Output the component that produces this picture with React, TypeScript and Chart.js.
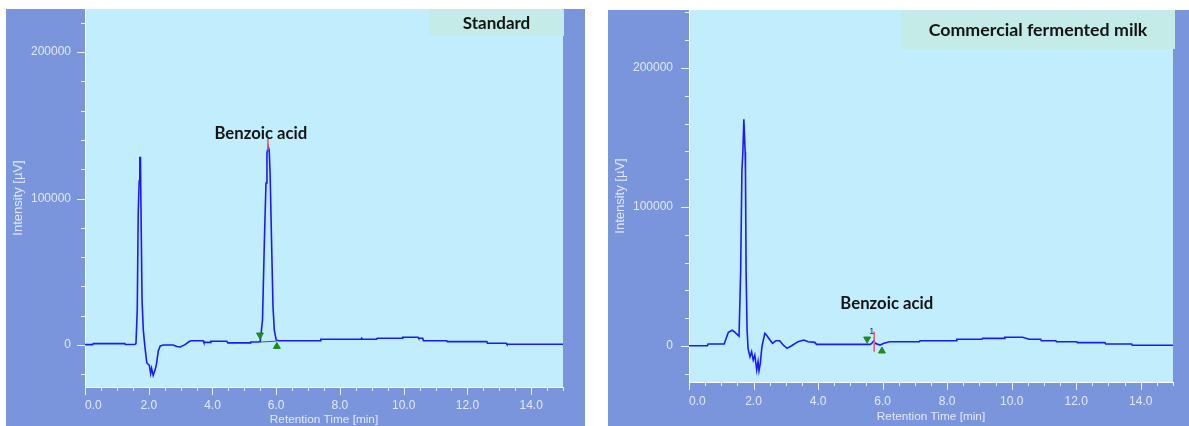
import React, { useEffect, useRef } from 'react';
import { Chart, registerables } from 'chart.js';

Chart.register(...registerables);

// ---------------- data ----------------
// Standard chromatogram (retention time [min], intensity [µV])
const standardTime = [
  0.0, 0.24, 0.26, 1.25, 1.27, 1.56, 1.6, 1.64, 1.67, 1.7, 1.72, 1.74, 1.76, 1.79, 1.83, 1.88, 1.94,
  2.02, 2.06, 2.09, 2.14, 2.2, 2.24, 2.3, 2.36, 2.46, 2.77, 2.88, 2.99, 3.14, 3.28, 3.35, 3.71, 3.73,
  3.93, 3.95, 4.45, 4.48, 5.18, 5.2, 5.44, 5.5, 5.57, 5.63, 5.68, 5.71, 5.75, 5.78, 5.81, 5.86, 5.9,
  5.94, 6.0, 6.08, 7.38, 7.4, 8.66, 8.68, 8.7, 9.15, 9.17, 9.95, 9.97, 10.45, 10.47, 10.6, 10.62,
  11.35, 11.37, 12.61, 12.63, 13.22, 13.24, 15.0,
];
const standardSignal = [
  200, 200, 900, 900, 300, 300, 1000, 24000, 90000, 112000, 128000, 128000, 86000, 30700, 10000, -1100, -12300,
  -14000, -19500, -16000, -20800, -17000, -13400, -4100, -700, 0, 0, -1000, -1400, 200, 2500, 2900, 2900, 1800,
  1800, 2500, 2500, 1400, 1400, 2000, 2000, 2500, 17000, 71700, 110600, 131000, 135400, 133000, 116000, 64800, 26100,
  10200, 3400, 2900, 2900, 3900, 3900, 4600, 3900, 3900, 4600, 4600, 5300, 5300, 4600, 4600, 2900,
  2900, 2250, 2250, 1160, 1160, 480, 480,
];

// Commercial fermented milk chromatogram
const milkTime = [
  0.0, 0.57, 0.59, 1.09, 1.22, 1.34, 1.42, 1.55, 1.6, 1.64, 1.67, 1.7, 1.74, 1.75, 1.77, 1.8, 1.83,
  1.89, 1.94, 1.99, 2.04, 2.1, 2.14, 2.17, 2.21, 2.26, 2.35, 2.4, 2.51, 2.59, 2.69, 2.81, 2.92, 3.04,
  3.18, 3.38, 3.56, 3.69, 3.9, 3.95, 5.62, 5.69, 5.73, 5.77, 5.92, 6.04, 6.22, 7.14, 7.16, 8.28, 8.3,
  9.08, 9.1, 9.77, 9.79, 10.34, 10.54, 10.9, 10.92, 11.37, 11.39, 12.02, 12.04, 12.89, 12.91, 13.72,
  13.74, 15.0,
];
const milkSignal = [
  200, 200, 1400, 1400, 9900, 11300, 9900, 7000, 52500, 126000, 140000, 163100, 139800, 125000, 52500, 11500, -1700,
  -7700, -4100, -10100, -6500, -17300, -11300, -17700, -12500, -500, 9100, 7900, 4300, 1900, 3800, 3800, 700, -1700,
  200, 3100, 4300, 3100, 2600, 1200, 1200, 2500, 3800, 1900, 700, 1900, 3100, 3100, 3800, 3800, 4800,
  4800, 5500, 5500, 6300, 6300, 4800, 4800, 3800, 3800, 3100, 3100, 2400, 2400, 1400, 1400,
  500, 500,
];

// Integration marks [time, intensity]
const standardPeakStart = [5.49, 6800];
const standardPeakEnd = [6.02, -1000];
const standardApex = [5.74, 133000, 141000];
const standardBaseline = [5.49, 2000, 6.02, 2600];
const milkPeakStart = [5.52, 5000];
const milkPeakEnd = [5.98, -3600];
const milkApex = [5.74, 10300, -4100];
const milkPeakNumber = [5.66, 10200];

// Annotation positions [time, intensity]
const standardPeakLabelAt = [5.52, 144000];
const milkPeakLabelAt = [6.13, 30200];

// Tick labels
const xLabeledTicks = [0, 2, 4, 6, 8, 10, 12, 14];
const yLabeledTicks = [0, 100000, 200000];
const yTickStep = 20000;
const xAxisTitle = 'Retention Time [min]';
const yAxisTitle = 'Intensity [µV]';
const peakName = 'Benzoic acid';
const standardTitle = 'Standard';
const milkTitle = 'Commercial fermented milk';

// ---------------- styles ----------------
const FRAME = '#7a95dc';
const PLOT_BG = '#c1edfc';
const BOX_BG = '#c4ebe7';
const LINE = '#1a1aff';
const AXIS_TEXT = '#e2e9fb';
const MARK_GREEN = '#1d8a26';
const SANS = '"Liberation Sans", Arial, sans-serif';
const BOLD = 'Lato, "Open Sans", sans-serif';

interface PanelSpec {
  title: string;
  titleSize: number;
  time: number[];
  signal: number[];
  yMin: number;
  yMax: number;
  left: number;
  top: number;
  width: number;
  height: number;
  yAxisWidth: number;
  xAxisHeight: number;
  padRight: number;
  yLabelPad: number;
  xLabelPad: number;
  xTitlePad: number;
  yTitlePad: number;
  boxWidth: number;
  boxHeight: number;
  boxOverhang: number;
  labelAt: number[];
  peakStart: number[];
  peakEnd: number[];
  apex: number[];
  baseline?: number[];
  peakNumber?: number[];
}

const standardPanel: PanelSpec = {
  title: standardTitle,
  titleSize: 17,
  time: standardTime,
  signal: standardSignal,
  yMin: -28700,
  yMax: 229400,
  left: 6,
  top: 9,
  width: 579,
  height: 417,
  yAxisWidth: 79,
  xAxisHeight: 39,
  padRight: 22,
  yLabelPad: 14,
  xLabelPad: 11,
  xTitlePad: -1,
  yTitlePad: 5,
  boxWidth: 135,
  boxHeight: 27,
  boxOverhang: 1,
  labelAt: standardPeakLabelAt,
  peakStart: standardPeakStart,
  peakEnd: standardPeakEnd,
  apex: standardApex,
  baseline: standardBaseline,
};

const milkPanel: PanelSpec = {
  title: milkTitle,
  titleSize: 17.8,
  time: milkTime,
  signal: milkSignal,
  yMin: -25900,
  yMax: 241700,
  left: 608,
  top: 10,
  width: 581,
  height: 416,
  yAxisWidth: 81,
  xAxisHeight: 44,
  padRight: 16,
  yLabelPad: 16,
  xLabelPad: 12,
  xTitlePad: 2,
  yTitlePad: 5,
  boxWidth: 274,
  boxHeight: 39,
  boxOverhang: 2,
  labelAt: milkPeakLabelAt,
  peakStart: milkPeakStart,
  peakEnd: milkPeakEnd,
  apex: milkApex,
  peakNumber: milkPeakNumber,
};

const near = (list: number[], v: number) => list.some((t) => Math.abs(t - v) < 1e-6);

const decorPlugin = {
  id: 'panelDecor',
  beforeDraw(chart: any) {
    const { ctx, chartArea: a, width, height } = chart;
    ctx.save();
    ctx.fillStyle = FRAME;
    ctx.fillRect(0, 0, width, height);
    ctx.fillStyle = PLOT_BG;
    ctx.fillRect(a.left, a.top, a.right - a.left, a.bottom - a.top);
    ctx.restore();
  },
  afterDraw(chart: any, _args: any, opts: any) {
    const { ctx, chartArea: a } = chart;
    const xs = chart.scales.x;
    const ys = chart.scales.y;
    ctx.save();
    // tick marks
    ctx.strokeStyle = '#eef3ff';
    ctx.lineWidth = 1;
    ctx.beginPath();
    xs.ticks.forEach((t: any) => {
      const px = Math.round(xs.getPixelForValue(t.value)) + 0.5;
      const len = near(xLabeledTicks, t.value) ? 8 : 4;
      ctx.moveTo(px, a.bottom);
      ctx.lineTo(px, a.bottom + len);
    });
    ys.ticks.forEach((t: any) => {
      const py = Math.round(ys.getPixelForValue(t.value)) + 0.5;
      const len = near(yLabeledTicks, t.value) ? 8 : 4;
      ctx.moveTo(a.left, py);
      ctx.lineTo(a.left - len, py);
    });
    ctx.stroke();

    // title box
    const bx = a.right + opts.boxOverhang - opts.boxWidth;
    ctx.fillStyle = BOX_BG;
    ctx.fillRect(bx, a.top, opts.boxWidth, opts.boxHeight);
    ctx.fillStyle = '#141414';
    ctx.font = `bold ${opts.titleSize}px ${BOLD}`;
    ctx.textAlign = 'center';
    ctx.textBaseline = 'middle';
    ctx.fillText(opts.title, bx + opts.boxWidth / 2, a.top + opts.boxHeight / 2 + 1);

    // peak name
    ctx.font = `bold 16.7px ${BOLD}`;
    ctx.fillText(peakName, xs.getPixelForValue(opts.labelAt[0]), ys.getPixelForValue(opts.labelAt[1]));

    // peak number
    if (opts.peakNumber) {
      ctx.fillStyle = '#1e2a6a';
      ctx.font = `9px ${SANS}`;
      ctx.fillText('1', xs.getPixelForValue(opts.peakNumber[0]), ys.getPixelForValue(opts.peakNumber[1]));
    }
    ctx.restore();
  },
};

function buildConfig(spec: PanelSpec): any {
  const points = spec.time.map((x, i) => ({ x, y: spec.signal[i] }));
  const datasets: any[] = [];
  if (spec.baseline) {
    datasets.push({
      data: [
        { x: spec.baseline[0], y: spec.baseline[1] },
        { x: spec.baseline[2], y: spec.baseline[3] },
      ],
      borderColor: '#3d5f66',
      borderWidth: 1,
      pointRadius: 0,
      order: 3,
    });
  }
  datasets.push({
    data: points,
    borderColor: LINE,
    borderWidth: 1.6,
    pointRadius: 0,
    tension: 0,
    order: 2,
  });
  datasets.push({
    data: [
      { x: spec.apex[0], y: spec.apex[1] },
      { x: spec.apex[0], y: spec.apex[2] },
    ],
    borderColor: '#e4606a',
    borderWidth: 1.6,
    pointRadius: 0,
    order: 1,
  });
  datasets.push({
    data: [{ x: spec.peakStart[0], y: spec.peakStart[1] }],
    showLine: false,
    pointStyle: 'triangle',
    rotation: 180,
    pointRadius: 4,
    backgroundColor: MARK_GREEN,
    borderColor: MARK_GREEN,
    borderWidth: 1,
    order: 0,
  });
  datasets.push({
    data: [{ x: spec.peakEnd[0], y: spec.peakEnd[1] }],
    showLine: false,
    pointStyle: 'triangle',
    pointRadius: 4,
    backgroundColor: MARK_GREEN,
    borderColor: MARK_GREEN,
    borderWidth: 1,
    order: 0,
  });

  const yTicks: number[] = [];
  for (let v = Math.ceil(spec.yMin / yTickStep) * yTickStep; v <= spec.yMax; v += yTickStep) yTicks.push(v);

  return {
    type: 'line',
    data: { datasets },
    plugins: [decorPlugin],
    options: {
      animation: false,
      responsive: false,
      maintainAspectRatio: false,
      devicePixelRatio: 1,
      layout: { autoPadding: false, padding: { left: 0, top: 0, right: spec.padRight, bottom: 0 } },
      plugins: {
        legend: { display: false },
        tooltip: { enabled: false },
        panelDecor: {
          title: spec.title,
          titleSize: spec.titleSize,
          boxWidth: spec.boxWidth,
          boxHeight: spec.boxHeight,
          boxOverhang: spec.boxOverhang,
          labelAt: spec.labelAt,
          peakNumber: spec.peakNumber,
        },
      },
      scales: {
        x: {
          type: 'linear',
          min: 0,
          max: 15,
          grid: { display: false, drawTicks: false },
          border: { display: true, color: '#ffffff', width: 1 },
          ticks: {
            stepSize: 0.5,
            autoSkip: false,
            maxRotation: 0,
            align: 'inner',
            padding: spec.xLabelPad,
            color: AXIS_TEXT,
            font: { family: SANS, size: 12 },
            callback: (v: number) => (near(xLabeledTicks, v) ? v.toFixed(1) : ''),
          },
          title: {
            display: true,
            text: xAxisTitle,
            color: AXIS_TEXT,
            font: { family: SANS, size: 11.8 },
            padding: { top: 0, bottom: spec.xTitlePad },
          },
          afterFit: (s: any) => {
            s.height = spec.xAxisHeight;
            s.paddingLeft = 0;
            s.paddingRight = 0;
          },
        },
        y: {
          type: 'linear',
          min: spec.yMin,
          max: spec.yMax,
          grid: { display: false, drawTicks: false },
          border: { display: true, color: '#ffffff', width: 1 },
          afterBuildTicks: (s: any) => {
            s.ticks = yTicks.map((value) => ({ value }));
          },
          ticks: {
            autoSkip: false,
            padding: spec.yLabelPad,
            color: AXIS_TEXT,
            font: { family: SANS, size: 12 },
            callback: (v: number) => (near(yLabeledTicks, v) ? String(Math.round(v)) : ''),
          },
          title: {
            display: true,
            text: yAxisTitle,
            color: AXIS_TEXT,
            font: { family: SANS, size: 13 },
            padding: { top: spec.yTitlePad, bottom: 0 },
          },
          afterFit: (s: any) => {
            s.width = spec.yAxisWidth;
            s.paddingTop = 0;
            s.paddingBottom = 0;
          },
        },
      },
    },
  };
}

function Panel({ spec }: { spec: PanelSpec }) {
  const ref = useRef<HTMLCanvasElement>(null);
  useEffect(() => {
    if (!ref.current) return;
    const chart = new Chart(ref.current, buildConfig(spec));
    return () => chart.destroy();
  }, [spec]);
  return (
    <canvas
      ref={ref}
      width={spec.width}
      height={spec.height}
      style={{
        position: 'absolute',
        left: spec.left,
        top: spec.top,
        width: spec.width,
        height: spec.height,
        display: 'block',
      }}
    />
  );
}

export default function App() {
  return (
    <div
      style={{
        position: 'fixed',
        left: 0,
        top: 0,
        width: 1189,
        height: 426,
        background: '#ffffff',
        overflow: 'hidden',
      }}
    >
      <Panel spec={standardPanel} />
      <Panel spec={milkPanel} />
    </div>
  );
}
